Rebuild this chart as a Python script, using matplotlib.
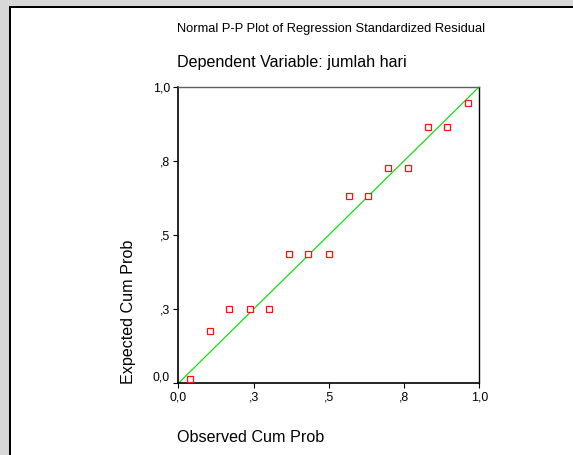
import matplotlib
matplotlib.use("Agg")
import matplotlib.pyplot as plt
from matplotlib.patches import Rectangle

plt.rcParams['font.family'] = ['Liberation Sans', 'DejaVu Sans']

# data
observed = [0.039, 0.105, 0.170, 0.237, 0.301, 0.369, 0.432, 0.500,
            0.567, 0.630, 0.698, 0.763, 0.829, 0.893, 0.961]
expected = [0.016, 0.178, 0.249, 0.249, 0.249, 0.436, 0.436, 0.436,
            0.633, 0.633, 0.725, 0.725, 0.863, 0.863, 0.946]
tick_pos = [0.0, 0.25, 0.5, 0.75, 1.0]
tick_labels = ["0,0", ",3", ",5", ",8", "1,0"]

W, H = 573, 455
fig = plt.figure(figsize=(W / 100, H / 100), dpi=100, facecolor='white')

# grey margin and black frame (top and left)
fig.add_artist(Rectangle((0, 0), 9 / W, 1, transform=fig.transFigure,
                         color='#d8d8d8', lw=0, zorder=0))
fig.add_artist(Rectangle((0, 1 - 5.7 / H), 1, 5.7 / H, transform=fig.transFigure,
                         color='#d8d8d8', lw=0, zorder=0))
fig.add_artist(Rectangle((9 / W, 0), 2 / W, 1 - 5.7 / H, transform=fig.transFigure,
                         color='black', lw=0, zorder=1))
fig.add_artist(Rectangle((9 / W, 1 - 7.7 / H), 1 - 9 / W, 2 / H, transform=fig.transFigure,
                         color='black', lw=0, zorder=1))

ax = fig.add_axes([178.3 / W, 1 - 383.3 / H, 301 / W, 296.6 / H])
ax.set_xlim(0, 1)
ax.set_ylim(0, 1)

ax.plot([0, 1], [0, 1], color='#10e010', lw=0.9, zorder=2)
ax.plot(observed, expected, ls='none', marker='s', markersize=4.3,
        markerfacecolor='white', markeredgecolor='#ff1010', markeredgewidth=0.9,
        zorder=3)

ax.set_xticks(tick_pos)
ax.set_xticklabels(tick_labels)
ax.set_yticks(tick_pos)
ax.set_yticklabels(tick_labels)
ax.tick_params(direction='out', length=3.6, width=0.8, labelsize=8.9,
               colors='black', pad=2.5)
ax.get_yticklabels()[0].set_va('bottom')

for side, lw, col in [('left', 1.2, 'black'), ('bottom', 1.2, 'black'),
                      ('top', 1.0, '#606060'), ('right', 1.0, 'black')]:
    ax.spines[side].set_linewidth(lw)
    ax.spines[side].set_color(col)

fig.text(177 / W, 1 - 29 / H, "Normal P-P Plot of Regression Standardized Residual",
         fontsize=9.3, ha='left', va='center')
fig.text(177 / W, 1 - 63 / H, "Dependent Variable: jumlah hari",
         fontsize=11.6, ha='left', va='center')
fig.text(177 / W, 1 - 437 / H, "Observed Cum Prob",
         fontsize=11.6, ha='left', va='center')
fig.text(128.8 / W, 1 - 383.5 / H, "Expected Cum Prob",
         fontsize=11.6, ha='center', va='bottom', rotation=90)

fig.savefig("out.png", dpi=100, facecolor='white')
